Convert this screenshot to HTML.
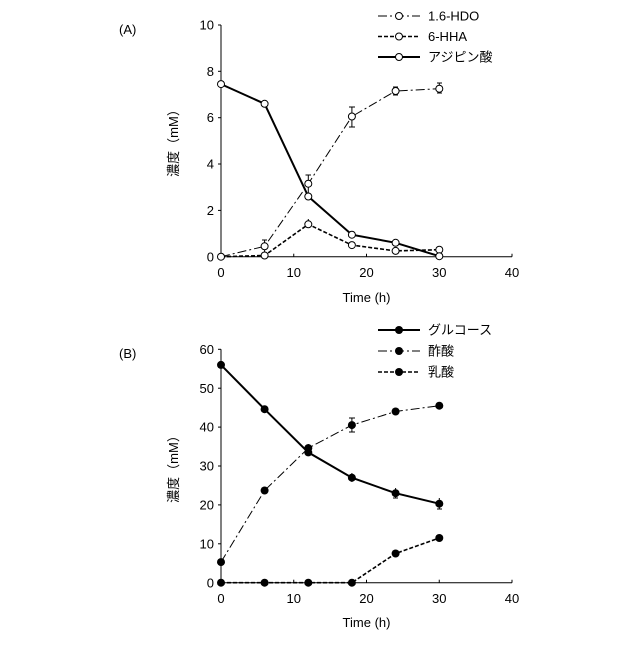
<!DOCTYPE html>
<html><head><meta charset="utf-8"><style>
html,body{margin:0;padding:0;background:#fff}
svg text{font-family:"Liberation Sans","Noto Sans CJK JP",sans-serif;fill:#000}
</style></head><body>
<svg width="640" height="640" viewBox="0 0 640 640" xmlns="http://www.w3.org/2000/svg">
<g stroke="#000" stroke-width="1" fill="none">
<line x1="221" y1="25" x2="221" y2="256.7"/>
<line x1="221" y1="256.7" x2="512" y2="256.7"/>
<line x1="218" y1="25" x2="221" y2="25"/><line x1="218" y1="71.3" x2="221" y2="71.3"/><line x1="218" y1="117.7" x2="221" y2="117.7"/><line x1="218" y1="164" x2="221" y2="164"/><line x1="218" y1="210.4" x2="221" y2="210.4"/>
<line x1="293.75" y1="253.7" x2="293.75" y2="256.7"/><line x1="366.5" y1="253.7" x2="366.5" y2="256.7"/><line x1="439.25" y1="253.7" x2="439.25" y2="256.7"/><line x1="512" y1="253.7" x2="512" y2="256.7"/>
<line x1="221" y1="349.3" x2="221" y2="582.7"/>
<line x1="221" y1="582.7" x2="512" y2="582.7"/>
<line x1="218" y1="349.3" x2="221" y2="349.3"/><line x1="218" y1="388.2" x2="221" y2="388.2"/><line x1="218" y1="427.1" x2="221" y2="427.1"/><line x1="218" y1="466" x2="221" y2="466"/><line x1="218" y1="504.9" x2="221" y2="504.9"/><line x1="218" y1="543.8" x2="221" y2="543.8"/>
<line x1="293.75" y1="579.7" x2="293.75" y2="582.7"/><line x1="366.5" y1="579.7" x2="366.5" y2="582.7"/><line x1="439.25" y1="579.7" x2="439.25" y2="582.7"/><line x1="512" y1="579.7" x2="512" y2="582.7"/>
<path d="M264.6 240v12M262 240h5M308.3 175v18M305.5 175h5.5M351.9 107v20M349 107h6M349 127h6M439.3 83v10M437 83h5M437 93h5M395.6 87v8M393 87h5M393 95h5M308.3 219v8"/>
<path d="M351.9 418v14M349 418h6M349 432h6M395.6 488v10M393 498h5M439.3 498v11M437 509h5M351.9 473v9M308.3 444v10"/>
<polyline stroke-dasharray="9,3,2,3" points="221,256.7 264.6,246.3 308.3,183.7 351.9,116.5 395.6,91 439.3,88.7"/>
<polyline stroke-width="1.6" stroke-dasharray="4,2" points="221,256.7 264.6,255.5 308.3,224.3 351.9,245.1 395.6,250.9 439.3,249.7"/>
<polyline stroke-width="2" points="221,84.1 264.6,103.8 308.3,196.5 351.9,234.7 395.6,242.8 439.3,256.2"/>
<polyline stroke-width="2" points="221,364.9 264.6,409.2 308.3,452.4 351.9,477.7 395.6,493.2 439.3,503.7"/>
<polyline stroke-dasharray="9,3,2,3" points="221,562.1 264.6,490.5 308.3,448.1 351.9,425.1 395.6,411.5 439.3,405.7"/>
<polyline stroke-width="1.6" stroke-dasharray="4,2" points="221,582.7 264.6,582.7 308.3,582.7 351.9,582.7 395.6,553.5 439.3,538"/>
<line x1="378" y1="16" x2="420" y2="16" stroke-dasharray="9,3,2,3"/>
<line x1="378" y1="36.5" x2="420" y2="36.5" stroke-width="1.6" stroke-dasharray="4,2"/>
<line x1="378" y1="57" x2="420" y2="57" stroke-width="2"/>
<line x1="378" y1="330" x2="420" y2="330" stroke-width="2"/>
<line x1="378" y1="351" x2="420" y2="351" stroke-dasharray="9,3,2,3"/>
<line x1="378" y1="372" x2="420" y2="372" stroke-width="1.6" stroke-dasharray="4,2"/>
</g>
<g fill="#fff" stroke="#000" stroke-width="1">
<circle cx="221" cy="256.7" r="3.5"/><circle cx="264.6" cy="246.3" r="3.5"/><circle cx="308.3" cy="183.7" r="3.5"/><circle cx="351.9" cy="116.5" r="3.5"/><circle cx="395.6" cy="91" r="3.5"/><circle cx="439.3" cy="88.7" r="3.5"/>
<circle cx="264.6" cy="255.5" r="3.5"/><circle cx="308.3" cy="224.3" r="3.5"/><circle cx="351.9" cy="245.1" r="3.5"/><circle cx="395.6" cy="250.9" r="3.5"/><circle cx="439.3" cy="249.7" r="3.5"/>
<circle cx="221" cy="84.1" r="3.5"/><circle cx="264.6" cy="103.8" r="3.5"/><circle cx="308.3" cy="196.5" r="3.5"/><circle cx="351.9" cy="234.7" r="3.5"/><circle cx="395.6" cy="242.8" r="3.5"/><circle cx="439.3" cy="256.2" r="3.5"/>
<circle cx="399" cy="16" r="3.5"/><circle cx="399" cy="36.5" r="3.5"/><circle cx="399" cy="57" r="3.5"/>
</g>
<g fill="#000">
<circle cx="221" cy="364.9" r="4"/><circle cx="264.6" cy="409.2" r="4"/><circle cx="308.3" cy="452.4" r="4"/><circle cx="351.9" cy="477.7" r="4"/><circle cx="395.6" cy="493.2" r="4"/><circle cx="439.3" cy="503.7" r="4"/>
<circle cx="221" cy="562.1" r="4"/><circle cx="264.6" cy="490.5" r="4"/><circle cx="308.3" cy="448.1" r="4"/><circle cx="351.9" cy="425.1" r="4"/><circle cx="395.6" cy="411.5" r="4"/><circle cx="439.3" cy="405.7" r="4"/>
<circle cx="221" cy="582.7" r="4"/><circle cx="264.6" cy="582.7" r="4"/><circle cx="308.3" cy="582.7" r="4"/><circle cx="351.9" cy="582.7" r="4"/><circle cx="395.6" cy="553.5" r="4"/><circle cx="439.3" cy="538" r="4"/>
<circle cx="399" cy="330" r="4"/><circle cx="399" cy="351" r="4"/><circle cx="399" cy="372" r="4"/>
</g>
<g font-size="13">
<text x="119" y="34">(A)</text>
<text x="119" y="358">(B)</text>
<g text-anchor="end">
<text x="214" y="29.5">10</text><text x="214" y="76">8</text><text x="214" y="122">6</text><text x="214" y="168.5">4</text><text x="214" y="215">2</text><text x="214" y="261.5">0</text>
<text x="214" y="354">60</text><text x="214" y="393">50</text><text x="214" y="431.5">40</text><text x="214" y="470.5">30</text><text x="214" y="509.5">20</text><text x="214" y="548.5">10</text><text x="214" y="587.5">0</text>
</g>
<g text-anchor="middle">
<text x="221" y="277">0</text><text x="293.75" y="277">10</text><text x="366.5" y="277">20</text><text x="439.25" y="277">30</text><text x="512" y="277">40</text>
<text x="366.5" y="302">Time (h)</text>
<text x="221" y="603">0</text><text x="293.75" y="603">10</text><text x="366.5" y="603">20</text><text x="439.25" y="603">30</text><text x="512" y="603">40</text>
<text x="366.5" y="627">Time (h)</text>
<text transform="translate(178,140) rotate(-90)">濃度（mM）</text>
<text transform="translate(178,466) rotate(-90)">濃度（mM）</text>
</g>
<text x="428" y="20.5">1.6-HDO</text>
<text x="428" y="41">6-HHA</text>
<text x="428" y="61.5">アジピン酸</text>
<text x="428" y="334.5">グルコース</text>
<text x="428" y="355.5">酢酸</text>
<text x="428" y="376.5">乳酸</text>
</g>
</svg>
</body></html>
